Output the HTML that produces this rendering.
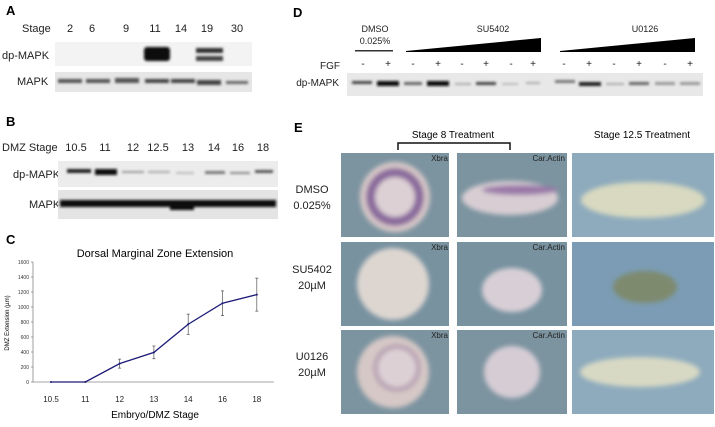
<!DOCTYPE html>
<html><head><meta charset="utf-8"><style>
body{margin:0;background:#fff;width:715px;height:422px;overflow:hidden;font-family:"Liberation Sans",sans-serif}
svg text{font-family:"Liberation Sans",sans-serif}
</style></head><body>
<svg width="715" height="422">
<defs>
<filter id="bl" x="-20%" y="-100%" width="140%" height="300%"><feGaussianBlur stdDeviation="1.2"/></filter>
<filter id="bl2" x="-30%" y="-30%" width="160%" height="160%"><feGaussianBlur stdDeviation="2.5"/></filter>
</defs>
<!-- Panel A -->
<g>
<text x="6" y="15" font-size="13" font-weight="bold">A</text>
<g font-size="11" fill="#222">
<text x="22" y="32">Stage</text>
<text x="70" y="32" text-anchor="middle">2</text><text x="92" y="32" text-anchor="middle">6</text>
<text x="126" y="32" text-anchor="middle">9</text><text x="155" y="32" text-anchor="middle">11</text>
<text x="181" y="32" text-anchor="middle">14</text><text x="207" y="32" text-anchor="middle">19</text>
<text x="237" y="32" text-anchor="middle">30</text>
<text x="2" y="59">dp-MAPK</text><text x="17" y="85">MAPK</text>
</g>
<rect x="55" y="42" width="197" height="24" fill="#f3f3f3"/>
<rect x="55" y="72" width="197" height="20" fill="#e6e6e6"/>
<g filter="url(#bl)" fill="#222">
<rect x="144" y="47" width="26" height="14" rx="3" fill="#111"/>
<rect x="196" y="48" width="27" height="5" fill="#333"/><rect x="196" y="56" width="27" height="5" fill="#444"/>
<rect x="58" y="79" width="24" height="4" fill="#555"/><rect x="86" y="79" width="24" height="4" fill="#555"/>
<rect x="115" y="78" width="24" height="5" fill="#555"/><rect x="145" y="79" width="24" height="4" fill="#444"/>
<rect x="171" y="79" width="24" height="4" fill="#444"/><rect x="197" y="80" width="24" height="5" fill="#444"/>
<rect x="226" y="81" width="22" height="3" fill="#666"/>
</g></g>
<!-- Panel B -->
<g>
<text x="6" y="126" font-size="13" font-weight="bold">B</text>
<g font-size="11" fill="#222">
<text x="2" y="151">DMZ Stage</text>
<text x="76" y="151" text-anchor="middle">10.5</text><text x="105" y="151" text-anchor="middle">11</text>
<text x="133" y="151" text-anchor="middle">12</text><text x="158" y="151" text-anchor="middle">12.5</text>
<text x="188" y="151" text-anchor="middle">13</text><text x="214" y="151" text-anchor="middle">14</text>
<text x="238" y="151" text-anchor="middle">16</text><text x="263" y="151" text-anchor="middle">18</text>
<text x="13" y="178">dp-MAPK</text><text x="29" y="208">MAPK</text>
</g>
<rect x="58" y="161" width="220" height="26" fill="#ececec"/>
<rect x="58" y="190" width="220" height="29" fill="#e4e4e4"/>
<g filter="url(#bl)">
<rect x="67" y="169" width="24" height="4" fill="#222"/><rect x="95" y="169" width="22" height="6" fill="#111"/>
<rect x="122" y="171" width="22" height="2" fill="#999"/><rect x="148" y="171" width="22" height="2" fill="#aaa"/>
<rect x="176" y="172" width="18" height="2" fill="#bbb"/><rect x="205" y="171" width="20" height="3" fill="#777"/>
<rect x="230" y="172" width="20" height="2" fill="#888"/><rect x="255" y="170" width="18" height="3" fill="#555"/>
<rect x="60" y="200" width="216" height="7" fill="#111"/><rect x="170" y="202" width="24" height="8" fill="#111"/>
</g></g>
<!-- Panel C chart -->
<g>
<text x="6" y="244" font-size="13" font-weight="bold">C</text>
<text x="155" y="257" font-size="11" text-anchor="middle">Dorsal Marginal Zone Extension</text>
<text transform="translate(9,323) rotate(-90)" font-size="6" text-anchor="middle">DMZ Extension (µm)</text>
<text x="155" y="418" font-size="10" text-anchor="middle">Embryo/DMZ Stage</text>
<g id="chart"></g>
</g>
<!-- Panel D -->
<g>
<text x="293" y="17" font-size="13" font-weight="bold">D</text>
<g font-size="9" fill="#222">
<text x="375" y="32" text-anchor="middle">DMSO</text><text x="375" y="44" text-anchor="middle">0.025%</text>
<text x="493" y="32" text-anchor="middle">SU5402</text><text x="645" y="32" text-anchor="middle">U0126</text>
<text x="340" y="69" font-size="10" text-anchor="end">FGF</text><text x="339" y="86" font-size="10" text-anchor="end">dp-MAPK</text>
</g>
<rect x="355" y="50" width="38" height="1.5" fill="#333"/>
<polygon points="406,51 541,38 541,52 406,52" fill="#000"/>
<polygon points="560,51 695,38 695,52 560,52" fill="#000"/>
<g font-size="10" text-anchor="middle" fill="#222">
<text x="363" y="67">-</text><text x="388" y="67">+</text><text x="413" y="67">-</text><text x="438" y="67">+</text>
<text x="462" y="67">-</text><text x="486" y="67">+</text><text x="511" y="67">-</text><text x="533" y="67">+</text>
<text x="564" y="67">-</text><text x="589" y="67">+</text><text x="614" y="67">-</text><text x="639" y="67">+</text>
<text x="665" y="67">-</text><text x="690" y="67">+</text>
</g>
<rect x="347" y="73" width="356" height="23" fill="#e8e8e8"/>
<g filter="url(#bl)">
<rect x="352" y="81" width="20" height="3" fill="#444"/><rect x="377" y="81" width="22" height="5" fill="#111"/>
<rect x="404" y="82" width="18" height="3" fill="#666"/><rect x="427" y="81" width="22" height="5" fill="#111"/>
<rect x="455" y="83" width="16" height="2" fill="#aaa"/><rect x="476" y="82" width="20" height="3" fill="#444"/>
<rect x="502" y="83" width="16" height="2" fill="#bbb"/><rect x="526" y="82" width="14" height="2" fill="#aaa"/>
<rect x="555" y="80" width="20" height="3" fill="#777"/><rect x="579" y="82" width="22" height="4" fill="#222"/>
<rect x="606" y="83" width="18" height="2" fill="#aaa"/><rect x="629" y="82" width="20" height="3" fill="#666"/>
<rect x="655" y="82" width="20" height="3" fill="#999"/><rect x="680" y="82" width="20" height="3" fill="#999"/>
</g></g>
<!-- Panel E -->
<g>
<text x="294" y="132" font-size="13" font-weight="bold">E</text>
<text x="453" y="138" font-size="10" text-anchor="middle">Stage 8 Treatment</text>
<text x="642" y="138" font-size="10" text-anchor="middle">Stage 12.5 Treatment</text>
<path d="M398,150 V143 H510 V150" fill="none" stroke="#111" stroke-width="1.5"/>
<g font-size="11" text-anchor="middle" fill="#222">
<text x="312" y="193">DMSO</text><text x="312" y="209">0.025%</text>
<text x="312" y="273">SU5402</text><text x="312" y="289">20µM</text>
<text x="312" y="360">U0126</text><text x="312" y="376">20µM</text>
</g>
<g>
<rect x="341" y="153" width="108" height="84" fill="#7c94a0"/>
<rect x="457" y="153" width="110" height="84" fill="#7c94a0"/>
<rect x="572" y="153" width="142" height="84" fill="#8eabbd"/>
<rect x="341" y="242" width="108" height="84" fill="#7892a0"/>
<rect x="457" y="242" width="110" height="84" fill="#7892a0"/>
<rect x="572" y="242" width="142" height="84" fill="#7b9cb4"/>
<rect x="341" y="330" width="108" height="84" fill="#7c94a0"/>
<rect x="457" y="330" width="110" height="84" fill="#7c94a0"/>
<rect x="572" y="330" width="142" height="84" fill="#8eabbd"/>
<g filter="url(#bl2)">
<circle cx="395" cy="197" r="35" fill="#d8c8c8"/><circle cx="395" cy="197" r="29" fill="#8a6a9c"/><circle cx="395" cy="197" r="20" fill="#ddd0d4"/>
<ellipse cx="510" cy="198" rx="48" ry="17" fill="#d8cdd3"/><ellipse cx="520" cy="190" rx="38" ry="5" fill="#9a78a8"/>
<ellipse cx="643" cy="200" rx="62" ry="18" fill="#d8d9c0"/>
<circle cx="393" cy="284" r="36" fill="#ddd6d0"/>
<ellipse cx="512" cy="290" rx="30" ry="22" fill="#d8cfd6"/>
<ellipse cx="645" cy="287" rx="32" ry="16" fill="#7e8a6e"/>
<circle cx="393" cy="372" r="36" fill="#d6c8c6"/><circle cx="397" cy="368" r="24" fill="#b8a3b4"/><circle cx="397" cy="368" r="19" fill="#ddd0d4"/>
<ellipse cx="512" cy="372" rx="28" ry="26" fill="#d6ccd4"/>
<ellipse cx="640" cy="372" rx="60" ry="15" fill="#d8d9c4"/>
</g>
<g font-size="8" fill="#222" text-anchor="end">
<text x="448" y="161">Xbra</text><text x="565" y="161">Car.Actin</text>
<text x="448" y="250">Xbra</text><text x="565" y="250">Car.Actin</text>
<text x="448" y="338">Xbra</text><text x="565" y="338">Car.Actin</text>
</g></g></g>
</svg>
<script>
const stages = ["10.5","11","12","13","14","16","18"];
const extension = [0, 0, 245, 395, 770, 1050, 1165];
const errors = [0, 0, 60, 85, 135, 165, 220];
const yTicks = [0,200,400,600,800,1000,1200,1400,1600];
const NS="http://www.w3.org/2000/svg";
const g=document.getElementById('chart');
const x0=51, dx=34.3, yBase=382, yScale=15/200;
const X=i=>x0+i*dx, Y=v=>yBase-v*yScale;
function mk(t,a){const e=document.createElementNS(NS,t);for(const k in a)e.setAttribute(k,a[k]);g.appendChild(e);return e;}
let ax=mk('path',{d:`M33,${Y(1600)} V${yBase} H274`,stroke:'#888','stroke-width':0.8,fill:'none'});


yTicks.forEach(v=>{
 mk('line',{x1:31,x2:33,y1:Y(v),y2:Y(v),stroke:'#888','stroke-width':0.8});
 const t=mk('text',{x:29,y:Y(v)+2,'font-size':5,'text-anchor':'end',fill:'#333'});t.textContent=v;
 
 
});
stages.forEach((s,i)=>{
 const t=mk('text',{x:X(i),y:402,'font-size':8,'text-anchor':'middle',fill:'#222'});t.textContent=s;
 
 
});
extension.forEach((v,i)=>{
 if(errors[i]>0){
  const e=mk('path',{d:`M${X(i)},${Y(v+errors[i])} V${Y(v-errors[i])} M${X(i)-1.5},${Y(v+errors[i])} h3 M${X(i)-1.5},${Y(v-errors[i])} h3`,stroke:'#555','stroke-width':0.7,fill:'none'});
  
  
 }
});
const line=mk('polyline',{points:extension.map((v,i)=>X(i)+','+Y(v)).join(' '),fill:'none',stroke:'#1c1a78','stroke-width':1.3});


extension.forEach((v,i)=>{
 const p=mk('circle',{cx:X(i),cy:Y(v),r:1,fill:'#1c1a78'});
 
 
});
</script>
</body></html>
